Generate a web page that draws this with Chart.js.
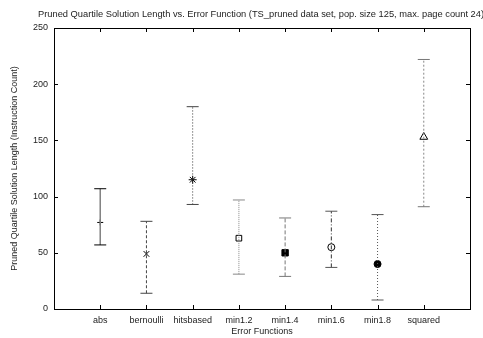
<!DOCTYPE html>
<html>
<head>
<meta charset="utf-8">
<script src="https://cdn.jsdelivr.net/npm/chart.js@4/dist/chart.umd.min.js"></script>
<style>
  html, body { margin: 0; padding: 0; background: #fff; }
  #wrap { width: 483px; height: 338px; }
</style>
</head>
<body>
<div id="wrap"><canvas id="c"></canvas></div>
<script>
const categories = ['abs', 'bernoulli', 'hitsbased', 'min1.2', 'min1.4', 'min1.6', 'min1.8', 'squared'];
const medians = [77, 49, 115, 63, 50, 55, 40, 153];
const lower = [57, 14, 93, 31, 29, 37, 8, 91];
const upper = [107, 78, 180, 97, 81, 87, 84, 222];

const titleText = 'Pruned Quartile Solution Length vs. Error Function (TS_pruned data set, pop. size 125, max. page count 24)';

// per-series look (gnuplot style line types)
const lineColors = ['#808080', '#444', '#333', '#888', '#777', '#333', '#555', '#888'];
const capColors = ['#000', '#444', '#444', '#888', '#777', '#555', '#555', '#777'];
const dashes = [[], [3, 2], [1, 2], [1, 1], [4, 2], [4, 2, 1, 2], [1, 2], [2, 2]];
const markStyles = ['cross', 'crossRot', 'star', 'rect', 'rect', 'circle', 'circle', 'triangle'];
const markFill = ['#000', '#000', '#000', 'rgba(0,0,0,0)', '#000', 'rgba(0,0,0,0)', '#000', 'rgba(0,0,0,0)'];
const markSize = [3, 4, 4, 4, 4.5, 3.5, 3.5, 4.5];

const font = { family: '"Liberation Sans", Arial, sans-serif', size: 9 };

const whiskers = categories.map((name, i) => ({
    label: name,
    data: [{ x: i + 1, y: lower[i] }, { x: i + 1, y: upper[i] }],
    showLine: true,
    borderColor: lineColors[i],
    borderWidth: i === 0 ? 1.5 : 1,
    borderDash: dashes[i],
    pointStyle: 'line',
    pointRadius: 6,
    pointBorderColor: capColors[i],
    pointBorderWidth: 1,
}));

const marks = {
    label: 'median',
    data: medians.map((v, i) => ({ x: i + 1, y: v })),
    showLine: false,
    pointStyle: markStyles,
    pointRadius: markSize,
    pointBackgroundColor: markFill,
    pointBorderColor: '#000',
    pointBorderWidth: 1,
};

// gnuplot-like frame with inward ticks on all sides, plus the title
const framePlugin = {
    id: 'frame',
    afterDraw(chart) {
        const { ctx, chartArea: a, scales } = chart;
        ctx.save();
        ctx.strokeStyle = '#000';
        ctx.lineWidth = 1;
        ctx.strokeRect(a.left + 0.5, a.top + 0.5, a.right - a.left, a.bottom - a.top);
        ctx.beginPath();
        for (let v = 1; v <= categories.length; v++) {
            const px = Math.round(scales.x.getPixelForValue(v)) + 0.5;
            ctx.moveTo(px, a.bottom); ctx.lineTo(px, a.bottom - 4);
            ctx.moveTo(px, a.top); ctx.lineTo(px, a.top + 4);
        }
        scales.y.ticks.forEach(t => {
            const py = Math.round(scales.y.getPixelForValue(t.value)) + 0.5;
            ctx.moveTo(a.left, py); ctx.lineTo(a.left + 4, py);
            ctx.moveTo(a.right, py); ctx.lineTo(a.right - 4, py);
        });
        ctx.stroke();
        ctx.fillStyle = '#222';
        ctx.font = '9.3px "Liberation Sans", Arial, sans-serif';
        ctx.textBaseline = 'middle';
        ctx.textAlign = 'left';
        ctx.fillText(titleText, 38, 14);
        ctx.restore();
    },
};

new Chart(document.getElementById('c'), {
    type: 'scatter',
    data: { datasets: [...whiskers, marks] },
    options: {
        responsive: true,
        maintainAspectRatio: false,
        animation: false,
        layout: { padding: { top: 28, right: 13, left: 0, bottom: 0 } },
        plugins: {
            legend: { display: false },
            tooltip: { enabled: false },
            title: { display: false },
        },
        scales: {
            x: {
                type: 'linear',
                min: 0,
                max: 9,
                grid: { display: false, drawTicks: false },
                border: { display: false },
                ticks: {
                    stepSize: 1,
                    autoSkip: false,
                    padding: 6,
                    color: '#222',
                    font,
                    callback: v => categories[v - 1] || '',
                },
                title: {
                    display: true,
                    text: 'Error Functions',
                    color: '#222',
                    font,
                    padding: { top: 2, bottom: 1 },
                },
                afterFit: s => { s.height = 29; },
            },
            y: {
                min: 0,
                max: 250,
                grid: { display: false, drawTicks: false },
                border: { display: false },
                ticks: { stepSize: 50, padding: 6, color: '#222', font },
                title: {
                    display: true,
                    text: 'Pruned Quartile Solution Length (Instruction Count)',
                    color: '#222',
                    font,
                    padding: { top: 9, bottom: 0 },
                },
                afterFit: s => { s.width = 54; },
            },
        },
    },
    plugins: [framePlugin],
});
</script>
</body>
</html>
